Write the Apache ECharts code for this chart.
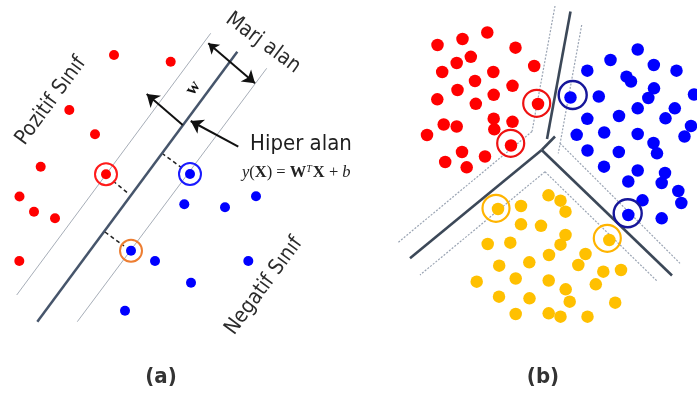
<!DOCTYPE html>
<html>
<head>
<meta charset="utf-8">
<script src="https://cdn.jsdelivr.net/npm/echarts@6/dist/echarts.min.js"></script>
<style>html,body{margin:0;padding:0;background:#fff}#c{width:697px;height:397px}</style>
</head>
<body>
<div id="c"></div>
<script>
// ---------- Panel (a) data ----------
const redA = [[114,55],[170.7,61.7],[69.3,110],[95,134.3],[40.7,166.7],[19.5,196.5],[34,211.7],[55,218.3],[19.3,261]];
const redARinged = [[106,174.3]];
const blueA = [[256,196.3],[184.3,204.3],[225,207.3],[155,261],[248.3,261],[191,282.7],[125,310.7]];
const blueARinged = [[190,174]];
const blueAOrangeRinged = [[131,250.7]];
const hyperplaneA = [[237.3,51.7],[37.3,321.7]];
const marginA = [[[210.7,33.3],[16.7,295]], [[266.7,68.3],[77.3,321.7]]];
const dashA = [[[113,181],[129,194]], [[182,168],[163,154]], [[105,232],[124,246]]];
const arrowW = [[182.7,125],[146.7,94]];
const arrowHiper = [[238.3,146.7],[190.7,121]];
const arrowMarj = [[208.3,43.3],[255,83.3]];

// ---------- Panel (b) data ----------
const redB = [[437.5,45],[462.5,39],[487.3,32.5],[515.5,47.7],[534.2,66],[456.7,63],[470.8,56.8],[442.2,72],[475,81],[493.3,72],[512.5,85.8],[457.5,90],[437.3,99.3],[475.8,103.8],[493.7,94.8],[443.7,124.5],[456.7,126.5],[427,135],[493.7,118.7],[494.3,129.3],[512.5,121.8],[462,152],[485,156.5],[445.2,162],[466.7,167.3],[538,104],[511,145.5]];
const redBRings = [[536.7,103.3],[510.7,143.3]];
const blueB = [[637.7,49.5],[610.5,60],[587.3,70.7],[653.8,65],[676.5,70.7],[626.5,76.7],[631,81.5],[598.8,96.5],[654,88.3],[648.3,98],[637.7,108.3],[619,116],[587.3,118.8],[674.8,108.3],[665.5,118.3],[694,94.5],[691,126],[576.7,134.8],[604.2,132.5],[637.7,134],[653.5,143],[657,153.3],[684.5,136.5],[587.5,150.5],[618.8,152],[604,166.7],[637.7,170.5],[628.3,181.5],[665,173],[661.7,183],[678.3,191],[681.3,203],[642.5,200.3],[661.7,218.3],[570.5,97.5],[628.3,215]];
const blueBRings = [[572.7,95],[627.7,213.3]];
const yellowB = [[521,206],[548.5,195.3],[560.5,200.7],[565.5,211.7],[521,224.3],[541,225.8],[565.5,235],[560.5,244.7],[487.7,244],[510.3,242.7],[549,255],[585.5,254],[578.3,265],[499.2,265.7],[529.3,262.3],[621,270],[603.3,271.7],[476.7,281.7],[515.7,278.5],[548.7,280.5],[565.7,289.3],[595.8,284.3],[499,296.7],[529.5,298.3],[569.7,301.7],[615.2,302.7],[515.7,314],[548.7,313.3],[560.5,316.7],[587.5,316.7],[498,209],[609.3,240]];
const yellowBRings = [[496,208.3],[607.3,238.3]];
const boundaryB = [[[570.5,11.5],[547,139]], [[541.7,150],[555,136.5]], [[541.7,150],[410,258.3]], [[541.7,150],[672,275.5]]];
const marginB = [[[555,6],[532,131.5]], [[532,131.5],[398.3,242.3]], [[581.7,25],[558.3,153.3]], [[560,143.3],[680,263.3]], [[545,171.7],[420,275]], [[545,171.7],[656.7,280.7]]];

// ---------- Texts ----------
const labels = { marj: 'Marj alan', pozitif: 'Pozitif Sınıf', negatif: 'Negatif Sınıf', hiper: 'Hiper alan', w: 'w', a: '(a)', b: '(b)' };

const chart = echarts.init(document.getElementById('c'), null, {renderer: 'canvas'});
const deg = Math.PI / 180;
const SANS = '"DejaVu Sans Condensed", "Liberation Sans", sans-serif';

function seg(list, color, width, type, symbol, symSize) {
  return {
    type: 'lines', coordinateSystem: 'cartesian2d', silent: true,
    symbol: symbol || 'none', symbolSize: symSize || 10,
    lineStyle: {color: color, width: width, type: type || 'solid', opacity: 1},
    data: list.map(c => ({coords: c})), z: 3
  };
}
function dots(data, color, size) {
  return {type: 'scatter', data: data, symbol: 'circle', symbolSize: size, silent: true,
    itemStyle: {color: color, opacity: 1}, z: 5};
}
function rings(data, color, size, bw) {
  return {type: 'scatter', data: data, symbol: 'circle', symbolSize: size, silent: true,
    itemStyle: {color: 'rgba(0,0,0,0)', borderColor: color, borderWidth: bw, opacity: 1}, z: 6};
}

chart.setOption({
  animation: false,
  backgroundColor: '#ffffff',
  grid: {left: 0, right: 0, top: 0, bottom: 0},
  xAxis: {type: 'value', min: 0, max: 697, show: false},
  yAxis: {type: 'value', min: 0, max: 397, inverse: true, show: false},
  series: [
    seg(marginA, '#a7aeb8', 1),
    seg([hyperplaneA], '#46556b', 2.5),
    seg(dashA, '#222222', 1.5, [4, 3]),
    seg([arrowW], '#111111', 2, 'solid', ['none', 'arrow'], [10, 12]),
    seg([arrowHiper], '#111111', 2, 'solid', ['none', 'arrow'], [10, 12]),
    seg([arrowMarj], '#111111', 2, 'solid', ['arrow', 'arrow'], [10, 12]),
    dots(redA, '#ff0000', 10),
    dots(redARinged, '#ff0000', 10),
    dots(blueA, '#0000ff', 10),
    dots(blueARinged, '#0000ff', 10),
    dots(blueAOrangeRinged, '#0000ff', 10),
    rings(redARinged, '#ff1a1a', 22, 2),
    rings(blueARinged, '#1a1aff', 22, 2),
    rings(blueAOrangeRinged, '#ed7d31', 22, 2),

    seg(marginB, '#9aa4b3', 1.2, [2, 1.5]),
    seg(boundaryB, '#3c4858', 2.6),
    dots(redB, '#ff0000', 12.5),
    dots(blueB, '#0000ff', 12.5),
    dots(yellowB, '#ffc000', 12.5),
    rings(redBRings, '#ee1111', 27, 2.2),
    rings(blueBRings, '#16169a', 28, 2.4),
    rings(yellowBRings, '#ffb400', 27, 2.2)
  ],
  graphic: [
    {type: 'text', x: 263, y: 43, rotation: -36.5 * deg,
      style: {text: labels.marj, font: '21px ' + SANS, fill: '#2b2b2b', align: 'center', verticalAlign: 'middle'}},
    {type: 'text', x: 51, y: 101, rotation: 53.5 * deg,
      style: {text: labels.pozitif, font: '21px ' + SANS, fill: '#2b2b2b', align: 'center', verticalAlign: 'middle'}},
    {type: 'text', x: 264, y: 286, rotation: 53.5 * deg,
      style: {text: labels.negatif, font: '21px ' + SANS, fill: '#2b2b2b', align: 'center', verticalAlign: 'middle'}},
    {type: 'text', x: 250, y: 144,
      style: {text: labels.hiper, font: '22px ' + SANS, fill: '#1e1e1e', align: 'left', verticalAlign: 'middle'}},
    {type: 'text', x: 193, y: 88, rotation: 53.5 * deg,
      style: {text: labels.w, font: 'bold 18px "Liberation Serif", serif', fill: '#111111', align: 'center', verticalAlign: 'middle'}},
    {type: 'text', x: 242, y: 173,
      style: {
        text: '{i|y}{r|(}{b|X}{r|) = }{b|W}{s|T}{b|X}{r| + }{i|b}',
        align: 'left', verticalAlign: 'middle',
        rich: {
          i: {font: 'italic 16.5px "Liberation Serif", serif', fill: '#222'},
          r: {font: '16.5px "Liberation Serif", serif', fill: '#222'},
          b: {font: 'bold 16.5px "Liberation Serif", serif', fill: '#222'},
          s: {font: 'italic 10px "Liberation Serif", serif', fill: '#222', verticalAlign: 'top', padding: [0, 1, 0, 0]}
        }
      }},
    {type: 'text', x: 161, y: 377,
      style: {text: labels.a, font: 'bold 22px ' + SANS, fill: '#333333', align: 'center', verticalAlign: 'middle'}},
    {type: 'text', x: 543, y: 377,
      style: {text: labels.b, font: 'bold 22px ' + SANS, fill: '#333333', align: 'center', verticalAlign: 'middle'}}
  ]
});
</script>
</body>
</html>
